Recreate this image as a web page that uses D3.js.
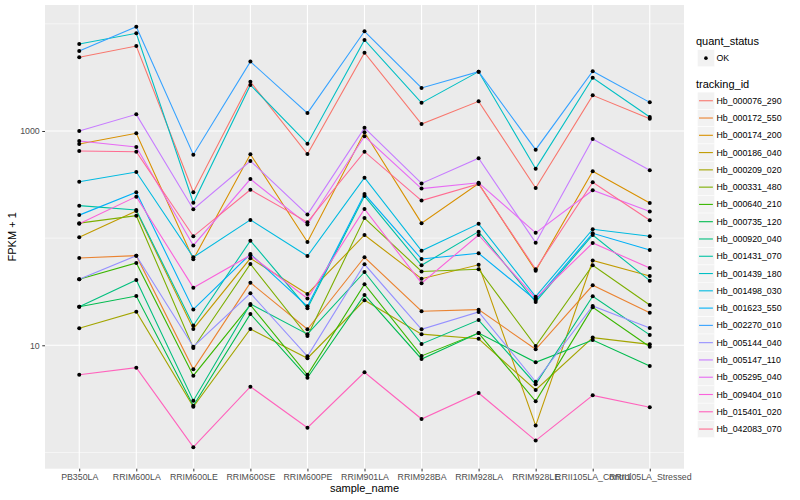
<!DOCTYPE html>
<html>
<head>
<meta charset="utf-8">
<script src="https://cdn.jsdelivr.net/npm/d3@7"></script>
<style>
  body { margin: 0; background: #fff; }
  text { font-family: "Liberation Sans", Arial, sans-serif; }
</style>
</head>
<body>
<div id="here"></div>
<script>
var samples = ['PB350LA', 'RRIM600LA', 'RRIM600LE', 'RRIM600SE', 'RRIM600PE', 'RRIM901LA',
               'RRIM928BA', 'RRIM928LA', 'RRIM928LE', 'RRII105LA_Control', 'RRII105LA_Stressed'];

var trackingIds = ['Hb_000076_290', 'Hb_000172_550', 'Hb_000174_200', 'Hb_000186_040', 'Hb_000209_020',
                   'Hb_000331_480', 'Hb_000640_210', 'Hb_000735_120', 'Hb_000920_040', 'Hb_001431_070',
                   'Hb_001439_180', 'Hb_001498_030', 'Hb_001623_550', 'Hb_002270_010', 'Hb_005144_040',
                   'Hb_005147_110', 'Hb_005295_040', 'Hb_009404_010', 'Hb_015401_020', 'Hb_042083_070'];

// FPKM + 1, one array per tracking_id, in sample order
var hb000076_290 = [4870, 6210, 268, 2880, 610, 5380, 1160, 1890, 294, 2150, 1300];
var hb000172_550 = [65.3, 68.6, 5.97, 38.4, 14.1, 66.3, 20.8, 21.5, 9.18, 36.3, 20.1];
var hb000174_200 = [756, 952, 63.5, 606, 92.1, 972, 138, 324, 49.7, 421, 213];
var hb000186_040 = [102, 179, 14.2, 64.8, 30.1, 107, 41.8, 56.4, 1.78, 61.9, 44.3];
var hb000209_020 = [14.4, 20.6, 2.67, 14.2, 7.57, 26.3, 12.7, 11.5, 3.83, 11.8, 10.2];
var hb000331_480 = [138, 162, 9.44, 57.4, 12.2, 154, 48.8, 51.2, 9.85, 55.8, 23.8];
var hb000640_210 = [41.3, 58.6, 5.20, 23.8, 5.31, 37.1, 7.95, 13.0, 3.00, 22.6, 9.70];
var hb000735_120 = [22.9, 28.8, 2.73, 19.6, 4.98, 29.5, 7.45, 13.0, 6.94, 11.2, 6.41];
var hb000920_040 = [22.9, 40.7, 3.04, 24.3, 12.7, 48.3, 10.3, 17.2, 4.33, 28.7, 12.5];
var hb001431_070 = [201, 183, 15.3, 94.7, 22.2, 247, 55.8, 115, 25.4, 107, 40.1];
var hb001439_180 = [6490, 8160, 214, 2690, 761, 7070, 1830, 3580, 445, 3140, 1350];
var hb001498_030 = [336, 414, 66.3, 148, 68.1, 367, 76.3, 136, 28.4, 121, 104];
var hb001623_550 = [164, 268, 21.6, 71.1, 23.1, 258, 63.9, 72.2, 26.5, 111, 77.5];
var hb002270_010 = [5580, 9400, 601, 4440, 1470, 8520, 2520, 3580, 669, 3610, 1850];
var hb005144_040 = [41.3, 68.6, 9.70, 30.6, 7.90, 57.0, 14.1, 20.5, 4.57, 23.3, 14.5];
var hb005147_110 = [1000, 1430, 186, 525, 166, 1070, 324, 556, 90.7, 842, 430];
var hb005295_040 = [807, 709, 85.4, 356, 134, 892, 290, 329, 112, 280, 177];
var hb009404_010 = [136, 244, 34.5, 69.2, 27.3, 187, 38.0, 107, 27.5, 90.1, 52.6];
var hb015401_020 = [5.31, 6.18, 1.12, 4.11, 1.70, 5.60, 2.05, 3.59, 1.29, 3.41, 2.64];
var hb042083_070 = [651, 641, 104, 283, 141, 641, 224, 320, 51.2, 332, 147];

var seriesValues = [hb000076_290, hb000172_550, hb000174_200, hb000186_040, hb000209_020,
                    hb000331_480, hb000640_210, hb000735_120, hb000920_040, hb001431_070,
                    hb001439_180, hb001498_030, hb001623_550, hb002270_010, hb005144_040,
                    hb005147_110, hb005295_040, hb009404_010, hb015401_020, hb042083_070];

var yMajor = [10, 1000];
var yMinor = [1, 100, 10000];

var colors = ['#F8766D', '#EA8331', '#D89000', '#C09B00', '#A3A500', '#7CAE00', '#39B600', '#00BB4E',
              '#00BF7D', '#00C1A3', '#00BFC4', '#00BAE0', '#00B0F6', '#35A2FF', '#9590FF', '#C77CFF',
              '#E76BF3', '#FA62DB', '#FF62BC', '#FF6C91'];

var w = 800, h = 500;
var pl = 45, pr = 684, pt = 5, pb = 468.7;

var x = d3.scalePoint().domain(samples).range([pl, pr]).padding(0.6);
var y = d3.scaleLog().domain([0.705, 14990]).range([pb, pt]);
var color = d3.scaleOrdinal().domain(trackingIds).range(colors);

var svg = d3.select('#here').append('svg')
  .attr('width', w)
  .attr('height', h)
  .style('background', '#fff');

// panel
svg.append('rect')
  .attr('x', pl).attr('y', pt)
  .attr('width', pr - pl).attr('height', pb - pt)
  .attr('fill', '#EBEBEB');

svg.selectAll('.minor').data(yMinor).enter().append('line')
  .attr('x1', pl).attr('x2', pr)
  .attr('y1', function(d) { return y(d); })
  .attr('y2', function(d) { return y(d); })
  .attr('stroke', '#fff').attr('stroke-width', 0.55);

svg.selectAll('.major').data(yMajor).enter().append('line')
  .attr('x1', pl).attr('x2', pr)
  .attr('y1', function(d) { return y(d); })
  .attr('y2', function(d) { return y(d); })
  .attr('stroke', '#fff').attr('stroke-width', 1.1);

svg.selectAll('.vgrid').data(samples).enter().append('line')
  .attr('x1', function(d) { return x(d); })
  .attr('x2', function(d) { return x(d); })
  .attr('y1', pt).attr('y2', pb)
  .attr('stroke', '#fff').attr('stroke-width', 1.1);

// lines, then points
var line = d3.line()
  .x(function(d, i) { return x(samples[i]); })
  .y(function(d) { return y(d); });

svg.selectAll('.series').data(seriesValues).enter().append('path')
  .attr('d', line)
  .attr('fill', 'none')
  .attr('stroke', function(d, i) { return color(trackingIds[i]); })
  .attr('stroke-width', 1.1);

seriesValues.forEach(function(vals) {
  svg.selectAll(null).data(vals).enter().append('circle')
    .attr('cx', function(d, i) { return x(samples[i]); })
    .attr('cy', function(d) { return y(d); })
    .attr('r', 2)
    .attr('fill', '#000');
});

// axes
var yAxis = svg.append('g')
  .attr('transform', 'translate(' + pl + ',0)')
  .call(d3.axisLeft(y).tickValues(yMajor).tickFormat(d3.format('d')).tickSize(2.74).tickPadding(2.5));
var xAxis = svg.append('g')
  .attr('transform', 'translate(0,' + pb + ')')
  .call(d3.axisBottom(x).tickSize(2.74).tickPadding(2.2));

[yAxis, xAxis].forEach(function(a) {
  a.select('.domain').remove();
  a.selectAll('.tick line').attr('stroke', '#333');
  a.selectAll('.tick text')
    .attr('fill', '#4D4D4D')
    .style('font-size', '8.8px')
    .style('font-family', '"Liberation Sans", Arial, sans-serif');
});

svg.append('text')
  .attr('x', (pl + pr) / 2).attr('y', 492)
  .attr('text-anchor', 'middle')
  .style('font-size', '11px')
  .text('sample_name');

svg.append('text')
  .attr('transform', 'translate(16,' + (pt + pb) / 2 + ') rotate(-90)')
  .attr('text-anchor', 'middle')
  .style('font-size', '11px')
  .text('FPKM + 1');

// legends
var lx = 697.3, key = 17.28;

svg.append('text').attr('x', 696).attr('y', 44.5).style('font-size', '11px').text('quant_status');
svg.append('rect').attr('x', lx).attr('y', 49.5).attr('width', key).attr('height', key)
  .attr('fill', '#F2F2F2').attr('stroke', '#fff').attr('stroke-width', 0.5);
svg.append('circle').attr('cx', lx + key / 2).attr('cy', 49.5 + key / 2).attr('r', 1.8).attr('fill', '#000');
svg.append('text').attr('x', 716.5).attr('y', 49.5 + key / 2).attr('dy', '0.35em')
  .style('font-size', '8.8px').text('OK');

svg.append('text').attr('x', 696).attr('y', 88).style('font-size', '11px').text('tracking_id');

var items = svg.selectAll('.leg').data(trackingIds).enter().append('g')
  .attr('transform', function(d, i) { return 'translate(' + lx + ',' + (92.1 + i * key) + ')'; });

items.append('rect')
  .attr('width', key).attr('height', key)
  .attr('fill', '#F2F2F2').attr('stroke', '#fff').attr('stroke-width', 0.5);
items.append('line')
  .attr('x1', 1.7).attr('x2', key - 1.7)
  .attr('y1', key / 2).attr('y2', key / 2)
  .attr('stroke', function(d) { return color(d); })
  .attr('stroke-width', 1.1);
items.append('text')
  .attr('x', 716.5 - lx).attr('y', key / 2).attr('dy', '0.35em')
  .style('font-size', '8.8px')
  .text(function(d) { return d; });
</script>
</body>
</html>
